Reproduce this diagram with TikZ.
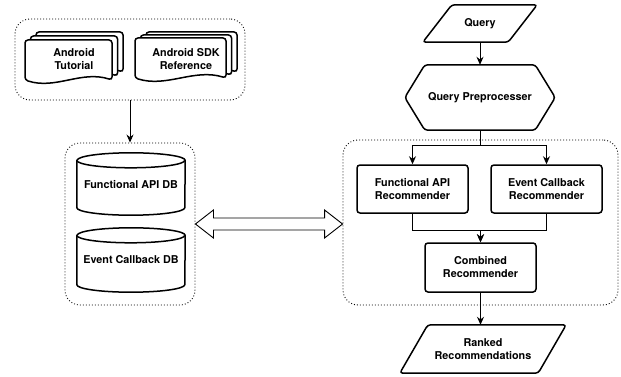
\documentclass[tikz,border=0pt]{standalone}
\usepackage{fontspec}
\setmainfont{TeX Gyre Heros}
\usetikzlibrary{arrows.meta, calc}

\newcommand{\docpage}[4]{\draw[sheet] (#1,#2+#4-5) -- (#1,#2) -- (#1+#3,#2) -- (#1+#3,#2+#4-5) .. controls (#1+0.65*#3,#2+#4-15) and (#1+0.35*#3,#2+#4+5) .. (#1,#2+#4-5) -- cycle;}
\newcommand{\dbcyl}[1]{%
\draw[dbline] ($(#1.north west)+(0,7.5)$) -- ($(#1.south west)+(0,-7.5)$) arc[start angle=180, end angle=360, x radius=54pt, y radius=7.5pt] -- ($(#1.north east)+(0,7.5)$) arc[start angle=0, end angle=180, x radius=54pt, y radius=7.5pt] -- cycle;
\draw[dbline] ($(#1.north west)+(0,7.5)$) arc[start angle=180, end angle=360, x radius=54pt, y radius=7.5pt];}
\newcommand{\ioshape}[2]{%
\draw[line width=1.5pt, rounded corners=3pt] (#1.south west) -- ($(#1.north west)+(#2,0)$) -- (#1.north east) -- ($(#1.south east)+(-#2,0)$) -- cycle;}

\begin{document}
\begin{tikzpicture}[x=1pt, y=-1pt, font=\fontsize{10.8}{13}\selectfont\bfseries,
  group/.style = {draw, dash pattern=on 0.9pt off 2.1pt, line width=0.9pt, rounded corners=15pt, minimum width=#1},
  sheet/.style = {draw, fill=white, line width=1.5pt, rounded corners=3pt},
  dbline/.style = {draw, fill=white, line width=1.5pt},
  dbnode/.style = {minimum width=108, minimum height=62, inner sep=0},
  recbox/.style = {draw, line width=1.5pt, rounded corners=3pt, minimum width=111, minimum height=48, align=center, inner sep=0},
  io/.style = {align=center, inner sep=0},
  conn/.style = {line width=0.9pt, -{Stealth[length=8pt, width=7pt]}}]
\useasboundingbox (0,0) rectangle (621,377);

\node[group=230, minimum height=81] (src) at (130,59.5) {};
\node[group=130, minimum height=162] (dbs) at (130,224) {};
\node[group=275, minimum height=165] (rec) at (480.5,222.5) {};

\docpage{36}{32}{87}{45}
\docpage{30.5}{36}{87}{45}
\docpage{25}{40}{87}{45}
\docpage{146}{32}{91}{45}
\docpage{140.5}{35}{91}{45}
\docpage{135}{38}{91}{45}
\node[align=center] (tut) at (74,59.5) {Android\\Tutorial};
\node[align=center] (sdk) at (186,59.5) {Android SDK\\Reference};

\node[dbnode] (fadb) at (131,184) {};
\node[dbnode, minimum height=64] (ecdb) at (131,260) {};
\dbcyl{fadb}
\dbcyl{ecdb}
\node (fadbtext) at (131,185) {Functional API DB};
\node (ecdbtext) at (131,260) {Event Callback DB};

\node[io, minimum width=114, minimum height=37] (query) at (480,23.5) {Query};
\ioshape{query}{29}
\node[minimum width=150, minimum height=65, inner sep=0] (prep) at (480,97.5) {Query Preprocesser};
\draw[line width=1.5pt, rounded corners=3pt] (prep.west) -- ($(prep.north west)+(20,0)$) -- ($(prep.north east)+(-20,0)$) -- (prep.east) -- ($(prep.south east)+(-20,0)$) -- ($(prep.south west)+(20,0)$) -- cycle;
\node[recbox] (farec) at (412.5,189) {Functional API\\Recommender};
\node[recbox] (ecrec) at (546.5,189) {Event Callback\\Recommender};
\node[recbox, minimum height=49] (comb) at (480.5,267.5) {Combined\\Recommender};
\node[io, minimum width=166, minimum height=48] (ranked) at (483,349) {Ranked\\Recommendations};
\ioshape{ranked}{28}

\draw[conn] (src) -- (dbs);
\draw[conn] (query) -- (prep);
\draw[line width=0.9pt] (prep.south) -- ++(0,15) coordinate (split);
\draw[conn] (split) -| (farec.north);
\draw[conn] (split) -| (ecrec.north);
\draw[conn] (farec.south) -- ++(0,17) -| (comb.north);
\draw[conn] (ecrec.south) -- ++(0,17) -| (comb.north);
\draw[conn] (comb.south) -- (comb.south |- ranked.north);

\coordinate (dArrL) at (dbs.east);
\coordinate (dArrR) at (dbs.east -| rec.west);
\draw[line width=0.9pt, fill=white] (dArrL) -- ++(18,-14) -- ++(0,8) -- ($(dArrR)+(-18,-6)$) -- ++(0,-8) -- (dArrR) -- ++(-18,14) -- ++(0,-8) -- ($(dArrL)+(18,6)$) -- ++(0,8) -- cycle;
\end{tikzpicture}
\end{document}
